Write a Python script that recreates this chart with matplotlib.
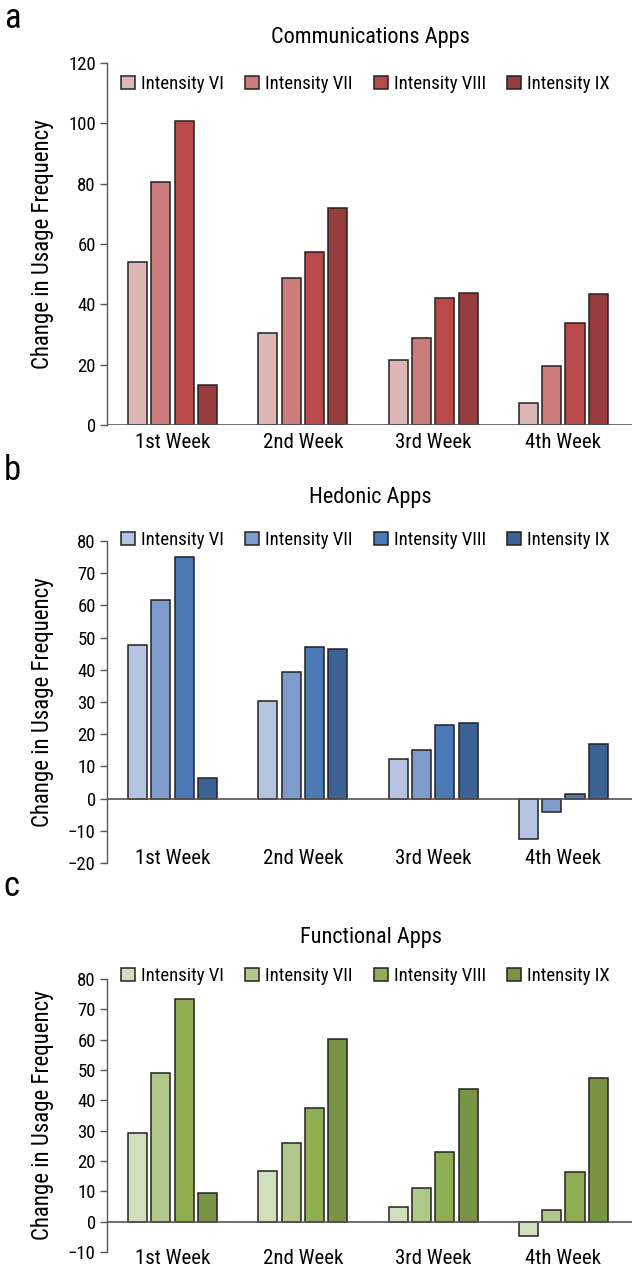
import matplotlib
matplotlib.use("Agg")
import matplotlib.pyplot as plt
from matplotlib import font_manager
import matplotlib.transforms as mtransforms
import numpy as np

avail = {f.name for f in font_manager.fontManager.ttflist}
fam = [f for f in ["Liberation Sans Narrow", "Roboto Condensed", "Liberation Sans"] if f in avail] + ["DejaVu Sans"]
plt.rcParams['font.family'] = fam

weeks = ["1st Week", "2nd Week", "3rd Week", "4th Week"]
series_names = ["Intensity VI", "Intensity VII", "Intensity VIII", "Intensity IX"]

comm_vi = [54.0, 30.6, 21.7, 7.3]
comm_vii = [80.5, 48.7, 29.0, 19.6]
comm_viii = [100.8, 57.3, 42.1, 33.8]
comm_ix = [13.2, 72.0, 43.8, 43.5]

hed_vi = [47.6, 30.3, 12.4, -12.4]
hed_vii = [61.6, 39.3, 15.2, -4.3]
hed_viii = [75.0, 47.2, 22.8, 1.4]
hed_ix = [6.3, 46.6, 23.6, 17.0]

fun_vi = [29.2, 16.8, 4.7, -4.8]
fun_vii = [49.0, 25.9, 11.1, 3.7]
fun_viii = [73.3, 37.4, 23.1, 16.5]
fun_ix = [9.4, 60.1, 43.6, 47.3]

red_colors = ["#DDB6B6", "#CC7C7B", "#B84B49", "#973D3D"]
blue_colors = ["#B4C4E1", "#7F9BCB", "#4A79B5", "#3B6293"]
green_colors = ["#D0E0BC", "#B0C98A", "#8FAE54", "#7A9446"]

H = 1273.0
def fy(px):
    return 1 - px / H

panels = [
    dict(letter="a", title="Communications Apps", data=[comm_vi, comm_vii, comm_viii, comm_ix],
         colors=red_colors, ylim=(0, 120), ticks=np.arange(0, 121, 20),
         top=63, bottom=425, title_y=38, letter_y=28, legend_y=84, week_y=443),
    dict(letter="b", title="Hedonic Apps", data=[hed_vi, hed_vii, hed_viii, hed_ix],
         colors=blue_colors, ylim=(-20, 80), ticks=np.arange(-20, 81, 10),
         top=541, bottom=863, title_y=497, letter_y=480, legend_y=540, week_y=858),
    dict(letter="c", title="Functional Apps", data=[fun_vi, fun_vii, fun_viii, fun_ix],
         colors=green_colors, ylim=(-10, 80), ticks=np.arange(-10, 81, 10),
         top=979, bottom=1252, title_y=937, letter_y=896, legend_y=976, week_y=1259),
]

fig = plt.figure(figsize=(6.36, 12.73), dpi=100)
x = np.arange(len(weeks))
bw = 0.146
step = 0.179
axis_color = "#555555"
left_px, right_px = 107, 632

for p in panels:
    rect = [left_px / 636, fy(p["bottom"]), (right_px - left_px) / 636, (p["bottom"] - p["top"]) / H]
    ax = fig.add_axes(rect)
    handles = []
    for i, (vals, col) in enumerate(zip(p["data"], p["colors"])):
        h = ax.bar(x + (i - 1.5) * step, vals, width=bw, color=col,
                   edgecolor="#222222", linewidth=1.1, label=series_names[i], zorder=3)
        handles.append(h)
    ax.set_xlim(-0.503, 3.527)
    ax.set_ylim(*p["ylim"])
    ax.set_yticks(p["ticks"])
    ax.set_yticklabels([str(t).replace("-", "\u2212") for t in p["ticks"]], fontsize=13.5)
    for s in ["top", "right", "bottom"]:
        ax.spines[s].set_visible(False)
    ax.spines["left"].set_color(axis_color)
    ax.spines["left"].set_linewidth(1.0)
    ax.tick_params(axis="y", direction="out", length=5, width=1.0, color=axis_color, pad=3)
    ax.axhline(0, color=axis_color, lw=1.2, zorder=4)
    ax.set_xticks([])
    tr = mtransforms.blended_transform_factory(ax.transData, fig.transFigure)
    for xi, w in zip(x, weeks):
        ax.text(xi, fy(p["week_y"]), w, transform=tr, ha="center", va="center",
                fontsize=15, clip_on=False)
    ax.set_ylabel("Change in Usage Frequency", fontsize=16.5)
    ax.yaxis.set_label_coords(-0.100, 0.5)
    leg_x_ax = (365.5 - left_px) / (right_px - left_px)
    ax.legend(handles=handles, loc="center", bbox_to_anchor=(leg_x_ax, fy(p["legend_y"])),
              bbox_transform=mtransforms.blended_transform_factory(ax.transAxes, fig.transFigure),
              ncol=4, frameon=False, fontsize=13.5, handlelength=0.75, handleheight=0.75,
              handletextpad=0.3, columnspacing=1.15, borderaxespad=0, borderpad=0)
    ax.patch.set_visible(False)
    fig.text(0.583, fy(p["title_y"]), p["title"], ha="center", va="center", fontsize=16)
    fig.text(0.006, fy(p["letter_y"]), p["letter"], ha="left", va="baseline", fontsize=25)

fig.savefig("out.png", dpi=100)
